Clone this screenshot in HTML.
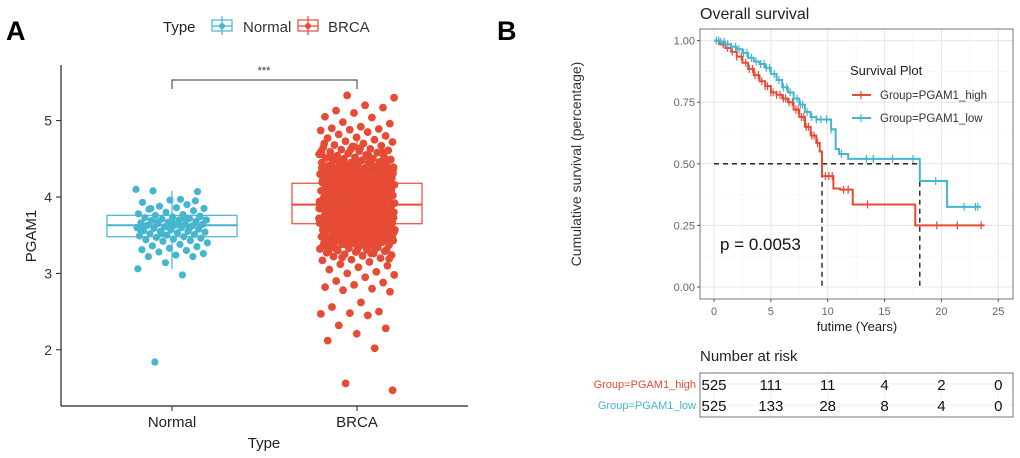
<!DOCTYPE html>
<html><head><meta charset="utf-8"><style>
html,body{margin:0;padding:0;background:#fff;}
svg{display:block;font-family:"Liberation Sans",sans-serif;}
</style></head><body>
<svg id="fig" width="1020" height="458" viewBox="0 0 1020 458">
 <text x="6" y="40" font-size="27" font-weight="bold">A</text>
 <text x="497" y="40" font-size="27" font-weight="bold">B</text>
 <g id="pa"></g>
 <g id="pb"></g>
</svg>
<script>
// ---------- Panel A data ----------
const groups = ["Normal","BRCA"];
const boxQ1 = [3.48, 3.65];
const boxMed = [3.63, 3.90];
const boxQ3 = [3.76, 4.18];
const whiskLo = [3.06, 3.23];
const whiskHi = [4.08, 4.78];
const yTicksA = [2,3,4,5];
const normalVals = [4.10,3.97,4.08,4.07,3.96,3.93,3.90,3.88,3.85,3.86,3.84,3.82,3.80,3.78,3.77,3.76,3.75,3.74,3.73,3.72,3.71,3.70,3.70,3.69,3.68,3.67,3.66,3.65,3.65,3.64,3.63,3.63,3.62,3.61,3.60,3.60,3.59,3.58,3.57,3.56,3.55,3.55,3.54,3.53,3.52,3.51,3.50,3.49,3.48,3.47,3.46,3.45,3.44,3.43,3.42,3.40,3.38,3.36,3.35,3.33,3.31,3.30,3.28,3.26,3.24,3.22,3.22,3.14,3.06,2.98,1.84,3.74,3.68,3.62,3.58,3.53,3.70,3.66,3.85,3.95,3.61,3.57,3.72,3.67];
const brcaVals = [5.33,5.30,5.20,5.13,5.17,5.10,5.05,5.04,4.98,4.96,4.92,4.90,4.89,4.88,4.87,4.85,4.82,4.80,4.78,4.77,4.75,4.73,4.72,4.70,4.68,4.67,4.66,4.65,4.63,4.62,4.61,4.60,4.59,4.58,4.57,4.56,4.55,4.54,4.53,4.52,4.51,4.50,4.50,4.49,4.48,4.47,4.46,4.45,4.45,4.44,4.43,4.42,4.42,4.41,4.40,4.40,4.39,4.38,4.38,4.37,4.36,4.36,4.35,4.34,4.34,4.33,4.32,4.32,4.31,4.30,4.30,4.29,4.28,4.28,4.27,4.26,4.26,4.25,4.24,4.24,4.23,4.22,4.22,4.21,4.20,4.20,4.19,4.18,4.18,4.17,4.16,4.16,4.15,4.14,4.14,4.13,4.12,4.12,4.11,4.10,4.10,4.09,4.08,4.08,4.07,4.06,4.06,4.05,4.04,4.04,4.03,4.02,4.02,4.01,4.00,4.00,3.99,3.98,3.98,3.97,3.96,3.96,3.95,3.94,3.94,3.93,3.92,3.92,3.91,3.90,3.90,3.89,3.88,3.88,3.87,3.86,3.86,3.85,3.84,3.84,3.83,3.82,3.82,3.81,3.80,3.80,3.79,3.78,3.78,3.77,3.76,3.76,3.75,3.74,3.74,3.73,3.72,3.72,3.71,3.70,3.70,3.69,3.68,3.68,3.67,3.66,3.66,3.65,3.64,3.64,3.63,3.62,3.62,3.61,3.60,3.60,3.59,3.58,3.58,3.57,3.56,3.56,3.55,3.54,3.54,3.53,3.52,3.52,3.51,3.50,3.50,3.49,3.48,3.48,3.47,3.46,3.46,3.45,3.44,3.44,3.43,3.42,3.42,3.41,3.40,3.40,3.39,3.38,3.37,3.36,3.35,3.34,3.33,3.32,3.31,3.30,3.29,3.28,3.27,3.26,3.25,3.24,3.23,3.22,3.20,3.18,3.17,3.15,3.12,3.10,3.08,3.05,3.02,3.00,2.98,2.95,2.90,2.88,2.85,2.82,2.80,2.78,2.76,2.62,2.56,2.50,2.48,2.47,2.45,2.32,2.28,2.21,2.12,2.02,1.56,1.47,
4.3,4.1,3.9,3.7,3.5,4.2,4.0,3.8,3.6,3.4,4.25,4.05,3.85,3.65,3.45,4.35,4.15,3.95,3.75,3.55,4.28,4.08,3.88,3.68,3.48,4.38,4.18,3.98,3.78,3.58,4.33,4.13,3.93,3.73,3.53,4.23,4.03,3.83,3.63,3.43,4.4,4.2,4.0,3.8,3.6,3.5,3.7,3.9,4.1,4.3,4.45,4.27,4.07,3.87,3.67,3.47,4.17,3.97,3.77,3.57,3.37,4.22,4.02,3.82,3.62,3.42,4.12,3.92,3.72,3.52,4.32,4.14,3.94,3.74,3.54,3.44,3.64,3.84,4.04,4.24,4.6,4.55,4.5,4.48,3.3,3.35,3.32,3.38,
4.31,4.11,3.91,3.71,3.51,4.21,4.01,3.81,3.61,3.41,4.26,4.06,3.86,3.66,3.46,4.36,4.16,3.96,3.76,3.56,4.29,4.09,3.89,3.69,3.49,4.39,4.19,3.99,3.79,3.59,4.34,4.14,3.94,3.74,3.54,4.24,4.04,3.84,3.64,3.44,4.41,4.21,4.01,3.81,3.61,3.51,3.71,3.91,4.11,4.31,4.46,4.27,4.07,3.87,3.67,3.47,4.17,3.97,3.77,3.57,3.36,4.22,4.02,3.82,3.62,3.42,4.12,3.92,3.72,3.52,4.32,4.14,3.94,3.74,3.54,3.44,3.64,3.84,4.04,4.24,4.62,4.56,4.52,4.47,3.31,3.34,3.29,3.39,4.42,4.37,3.39,3.33,4.58,4.66,4.7,3.26,3.21,3.19,4.64,4.53];

const NS="http://www.w3.org/2000/svg";
function mk(parent,tag,attrs){const e=document.createElementNS(NS,tag);for(const k in attrs)e.setAttribute(k,attrs[k]);parent.appendChild(e);return e;}
const blue="#45b5d0", red="#e64b35";
const pa=document.getElementById('pa');
const yA=v=>197-(v-4)*76.4;
const xA=i=>[172,357][i];
let e;
e=mk(pa,'line',{x1:61,y1:65,x2:61,y2:406,stroke:'#222','stroke-width':1.2});

e=mk(pa,'line',{x1:61,y1:406,x2:468,y2:406,stroke:'#222','stroke-width':1.2});

yTicksA.forEach(t=>{
 mk(pa,'line',{x1:56,x2:61,y1:yA(t),y2:yA(t),stroke:'#222'});
 const tx=mk(pa,'text',{x:52,y:yA(t)+5,'font-size':14,'text-anchor':'end',fill:'#333'});tx.textContent=t;
 
});
groups.forEach((g,i)=>{
 mk(pa,'line',{x1:xA(i),x2:xA(i),y1:406,y2:411,stroke:'#222'});
 const tx=mk(pa,'text',{x:xA(i),y:427,'font-size':15,'text-anchor':'middle',fill:'#222'});tx.textContent=g;
 
});
e=mk(pa,'text',{x:264,y:448,'font-size':15,'text-anchor':'middle',fill:'#222'});e.textContent='Type';

e=mk(pa,'text',{x:0,y:0,'font-size':15,'text-anchor':'middle',fill:'#222',transform:'translate(36,236) rotate(-90)'});e.textContent='PGAM1';

groups.forEach((g,i)=>{
 const c=i?red:blue, x=xA(i), hw=65;
 const gg=mk(pa,'g',{});
 
 mk(gg,'line',{x1:x,x2:x,y1:yA(whiskHi[i]),y2:yA(boxQ3[i]),stroke:c,'stroke-width':1.2});
 mk(gg,'line',{x1:x,x2:x,y1:yA(boxQ1[i]),y2:yA(whiskLo[i]),stroke:c,'stroke-width':1.2});
 mk(gg,'rect',{x:x-hw,y:yA(boxQ3[i]),width:2*hw,height:yA(boxQ1[i])-yA(boxQ3[i]),fill:'none',stroke:c,'stroke-width':1.2});
 mk(gg,'line',{x1:x-hw,x2:x+hw,y1:yA(boxMed[i]),y2:yA(boxMed[i]),stroke:c,'stroke-width':2});
});
[normalVals,brcaVals].forEach((vals,i)=>{
 const c=i?red:blue, x=xA(i), w=i?38:36;
 const gg=mk(pa,'g',{fill:c});
 
 vals.forEach((v,k)=>{
  const j=((k*0.6180339887+0.37*i)%1)*2-1;
  const p=mk(gg,'circle',{cx:x+j*w,cy:yA(v),r:i?3.9:3.6});
  
  
 });
});
e=mk(pa,'path',{d:'M172,89 V80 H357 V89',fill:'none',stroke:'#333','stroke-width':1});

e=mk(pa,'text',{x:264,y:74,'font-size':11,'text-anchor':'middle',fill:'#333'});e.textContent='***';

const lg=mk(pa,'g',{});
e=mk(lg,'text',{x:163,y:32,'font-size':15,fill:'#222'});e.textContent='Type';
[[212,blue,'Normal',243],[298,red,'BRCA',328]].forEach(([lx,c,t,tx])=>{
 const en=mk(lg,'g',{});
 mk(en,'rect',{x:lx,y:20,width:20,height:11,fill:'none',stroke:c,'stroke-width':1.2});
 mk(en,'line',{x1:lx+10,x2:lx+10,y1:16,y2:35,stroke:c,'stroke-width':1.2});
 mk(en,'line',{x1:lx,x2:lx+20,y1:26,y2:26,stroke:c,'stroke-width':1.2});
 mk(en,'circle',{cx:lx+10,cy:26,r:3,fill:c});
 const te=mk(en,'text',{x:tx,y:32,'font-size':15,fill:'#333'});te.textContent=t;
});

// ---------- Panel B data ----------
const xTicksB=[0,5,10,15,20,25];
const yTicksB=[0,0.25,0.5,0.75,1];
const highT=[0,0.5,1,1.5,2,2.5,3,3.5,4,4.5,5,5.5,6,6.5,7,7.5,8,8.5,9,9.3,9.5,10.5,11.1,12.2,17.7,23.8];
const highS=[1,0.985,0.97,0.955,0.935,0.91,0.885,0.86,0.835,0.815,0.79,0.78,0.765,0.75,0.72,0.69,0.65,0.615,0.585,0.55,0.45,0.40,0.395,0.335,0.25,0.25];
const lowT=[0,0.5,1,1.5,2,2.5,3,3.5,4,4.5,5,5.5,6,6.5,7,7.5,8,8.5,9,10.3,10.7,11,11.8,18.1,20.5,23.5];
const lowS=[1,0.995,0.985,0.975,0.965,0.95,0.93,0.915,0.905,0.89,0.865,0.84,0.81,0.79,0.765,0.74,0.71,0.69,0.68,0.64,0.56,0.54,0.52,0.43,0.325,0.325];
const highCens=[0.4,0.8,1.2,1.6,2.0,2.4,2.8,3.1,3.4,3.6,3.9,4.2,4.5,4.7,5.0,5.2,5.5,5.8,6.1,6.3,6.6,6.9,7.2,7.4,7.7,7.9,8.1,8.3,8.6,8.8,9.1,9.8,10.1,10.4,11.4,11.8,13.5,19.6,21.4,23.5];
const lowCens=[0.2,0.4,0.6,0.9,1.2,1.5,1.9,2.2,2.6,2.9,3.3,3.7,4.1,4.4,4.6,4.9,5.3,5.7,6.1,6.4,6.7,7.0,7.3,7.6,7.8,8.2,8.6,9.0,9.4,9.9,10.3,11.2,13.4,14,15.7,17.5,19.5,22,23,23.2];
const riskHigh=[525,111,11,4,2,0];
const riskLow=[525,133,28,8,4,0];

const pb=document.getElementById('pb');
const xB=t=>714+t*11.37;
const yB=s=>287-s*246.4;
const L=700,R=1013,T=29,Bt=299;
mk(pb,'rect',{x:L,y:T,width:R-L,height:Bt-T,fill:'#fff'});
for(let t=-2.5;t<=27.5;t+=2.5){const x=xB(t);if(x<L||x>R)continue;
 mk(pb,'line',{x1:x,x2:x,y1:T,y2:Bt,stroke:(t%5===0)?'#e6e6e6':'#f3f3f3','stroke-width':(t%5===0)?1:0.6});}
for(let s=0;s<=1.01;s+=0.125){const y=yB(s);
 mk(pb,'line',{x1:L,x2:R,y1:y,y2:y,stroke:(Math.round(s*8)%2===0)?'#e6e6e6':'#f3f3f3','stroke-width':(Math.round(s*8)%2===0)?1:0.6});}
e=mk(pb,'rect',{x:L,y:T,width:R-L,height:Bt-T,fill:'none',stroke:'#555','stroke-width':0.8});

xTicksB.forEach(t=>{mk(pb,'line',{x1:xB(t),x2:xB(t),y1:Bt,y2:Bt+3,stroke:'#555'});
 const tx=mk(pb,'text',{x:xB(t),y:315,'font-size':11,'text-anchor':'middle',fill:'#666'});tx.textContent=t;
 });
yTicksB.forEach(s=>{mk(pb,'line',{x1:L-3,x2:L,y1:yB(s),y2:yB(s),stroke:'#555'});
 const tx=mk(pb,'text',{x:L-5,y:yB(s)+4,'font-size':11,'text-anchor':'end',fill:'#666'});tx.textContent=s.toFixed(2);
 });
e=mk(pb,'text',{x:L,y:19,'font-size':16,fill:'#222'});e.textContent='Overall survival';

e=mk(pb,'text',{x:857,y:331,'font-size':13,'text-anchor':'middle',fill:'#222'});e.textContent='futime (Years)';

e=mk(pb,'text',{x:0,y:0,'font-size':14,'text-anchor':'middle',fill:'#333',transform:'translate(581,164) rotate(-90)'});e.textContent='Cumulative survival (percentage)';

e=mk(pb,'path',{d:`M${xB(0)},${yB(0.5)} H${xB(18.1)} M${xB(9.5)},${yB(0.5)} V${yB(0)} M${xB(18.1)},${yB(0.5)} V${yB(0)}`,fill:'none',stroke:'#111','stroke-width':1.3,'stroke-dasharray':'5,4'});

function stepVal(T,S,t){let v=S[0];for(let i=0;i<T.length;i++){if(T[i]<=t)v=S[i];}return v;}
[[highT,highS,highCens,red,'curve-pgam1-high'],[lowT,lowS,lowCens,blue,'curve-pgam1-low']].forEach(([Ts,Ss,Cs,c,n])=>{
 let d=`M${xB(Ts[0])},${yB(Ss[0])}`;
 for(let i=1;i<Ts.length;i++){d+=` H${xB(Ts[i])} V${yB(Ss[i])}`;}
 const p=mk(pb,'path',{d:d,fill:'none',stroke:c,'stroke-width':2});
 
 Cs.forEach(t=>{const y=yB(stepVal(Ts,Ss,t));
  const m=mk(pb,'line',{x1:xB(t),x2:xB(t),y1:y-4,y2:y+4,stroke:c,'stroke-width':1.2});
  });
});
e=mk(pb,'text',{x:720,y:250,'font-size':17,fill:'#111'});e.textContent='p = 0.0053';

const lgb=mk(pb,'g',{});
e=mk(lgb,'text',{x:850,y:75,'font-size':13,fill:'#222'});e.textContent='Survival Plot';
[[95,red,'Group=PGAM1_high'],[118,blue,'Group=PGAM1_low']].forEach(([y,c,t])=>{
 const en=mk(lgb,'g',{});
 mk(en,'line',{x1:852,x2:871,y1:y,y2:y,stroke:c,'stroke-width':2});
 mk(en,'line',{x1:861,x2:861,y1:y-4,y2:y+4,stroke:c,'stroke-width':1.2});
 const te=mk(en,'text',{x:880,y:y+4,'font-size':11.5,fill:'#333'});te.textContent=t;
});
e=mk(pb,'text',{x:700,y:361,'font-size':15,fill:'#222'});e.textContent='Number at risk';

const rt=mk(pb,'g',{});
xTicksB.forEach(t=>mk(rt,'line',{x1:xB(t),x2:xB(t),y1:373,y2:417,stroke:'#f0f0f0'}));
mk(rt,'line',{x1:L,x2:R,y1:384,y2:384,stroke:'#ececec'});
mk(rt,'line',{x1:L,x2:R,y1:405,y2:405,stroke:'#ececec'});
mk(rt,'rect',{x:L,y:373,width:R-L,height:44,fill:'none',stroke:'#555','stroke-width':0.8});
[[riskHigh,389,red,'Group=PGAM1_high'],[riskLow,410,blue,'Group=PGAM1_low']].forEach(([vals,y,c,lab])=>{
 const l=mk(rt,'text',{x:696,y:y-1,'font-size':11,'text-anchor':'end',fill:c});l.textContent=lab;
 
 vals.forEach((v,i)=>{const tx=mk(rt,'text',{x:i===0?714:xB(xTicksB[i]),y:y+1,'font-size':15,'text-anchor':'middle',fill:'#111'});tx.textContent=v;
  });
});
</script>
</body></html>
